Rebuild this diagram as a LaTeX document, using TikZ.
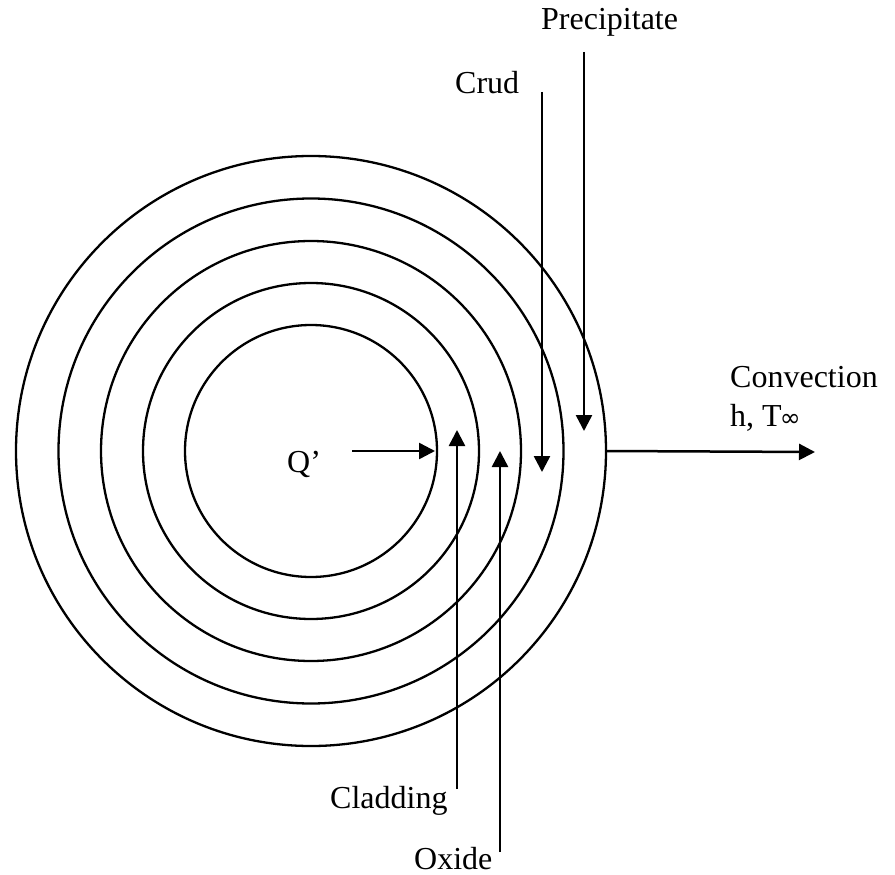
\documentclass[tikz,border=0pt]{standalone}
\usepackage{fontspec}
\setmainfont{Liberation Serif}
\usetikzlibrary{arrows.meta}
\newfontfamily\symfont{DejaVu Sans}
\begin{document}
\begin{tikzpicture}[x=1pt,y=-1pt,
  ring/.style={draw=black,line width=2.3pt,circle,inner sep=0pt},
  arr/.style={line width=2.5pt,-{Triangle[length=16pt,width=16pt]}},
  lab/.style={inner sep=0pt,font=\fontsize{32}{34}\selectfont}]
\useasboundingbox (0,0) rectangle (895,875);
\fill[white] (0,0) rectangle (895,875);
\coordinate (c) at (311,451);
\node[ring,minimum size=252pt] (r1) at (c) {};
\node[ring,minimum size=336pt] (r2) at (c) {};
\node[ring,minimum size=420pt] (r3) at (c) {};
\node[ring,minimum size=505pt] (r4) at (c) {};
\node[ring,minimum size=590pt] (r5) at (c) {};
\node[lab,anchor=base west] (q) at (287,472) {Q’};
\node[lab,anchor=base west] (prec) at (541,30) {Precipitate};
\node[lab,anchor=base west] (crud) at (455,93) {Crud};
\node[lab,anchor=base west] (clad) at (330,808) {Cladding};
\node[lab,anchor=base west] (ox) at (414,869) {Oxide};
\node[lab,anchor=base west] (conv) at (730,387) {Convection};
\node[lab,anchor=base west] (h) at (730,426) {h, T\kern-2pt{\symfont\fontsize{25}{25}\selectfont ∞}};
\coordinate (a1s) at (352,451); \coordinate (a1e) at (435,451);
\coordinate (a2s) at (457,789); \coordinate (a2e) at (457,430);
\coordinate (a3s) at (500,852); \coordinate (a3e) at (500,451);
\coordinate (a4s) at (542,92); \coordinate (a4e) at (542,472);
\coordinate (a5s) at (584,52); \coordinate (a5e) at (584,431);
\coordinate (a6s) at (606,451); \coordinate (a6e) at (815,452);
\draw[arr] (a1s) -- (a1e);
\draw[arr] (a2s) -- (a2e);
\draw[arr] (a3s) -- (a3e);
\draw[arr] (a4s) -- (a4e);
\draw[arr] (a5s) -- (a5e);
\draw[arr] (a6s) -- (a6e);
\end{tikzpicture}
\end{document}
